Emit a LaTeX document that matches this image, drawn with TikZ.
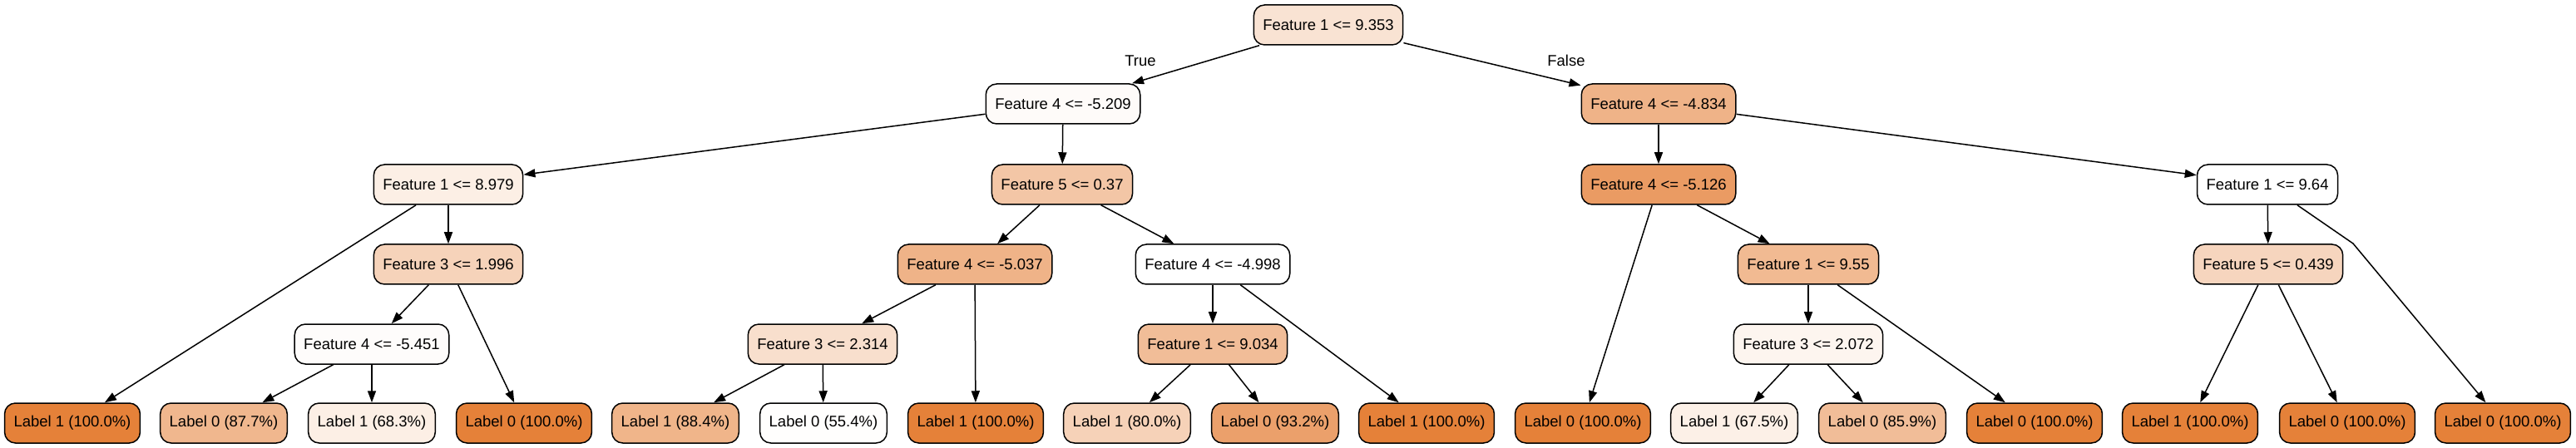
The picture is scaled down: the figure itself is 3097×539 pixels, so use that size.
\documentclass[tikz,border=0pt]{standalone}
\usepackage{fontspec}
\setmainfont{Liberation Sans}
\usetikzlibrary{arrows.meta}
\definecolor{treeor}{HTML}{E58139}
\begin{document}
\begin{tikzpicture}[x=0.5pt,y=-0.5pt,line width=0.75pt,>={Triangle[length=7pt,width=5pt]}]
  \tikzstyle{cond}=[draw,rounded corners=6.5pt,minimum height=24pt,inner xsep=5.5pt,font=\fontsize{9.25}{11}\selectfont]
  \tikzstyle{leaf}=[cond]
  \useasboundingbox (0,0) rectangle (3097,539);

  % split nodes
  \foreach \name/\x/\y/\c/\lbl in {1/1597/30/22/Feature 1 <= 9.353, 2/1278/125/3/Feature 4 <= -5.209,
      3/1994/125/60/Feature 4 <= -4.834, 4/539/222/13/Feature 1 <= 8.979, 5/1277/222/45/Feature 5 <= 0.37,
      6/1994/222/79/Feature 4 <= -5.126, 7/2726/222/0/Feature 1 <= 9.64, 8/539/318/35/Feature 3 <= 1.996,
      9/1172/318/60/Feature 4 <= -5.037, 10/1458/318/0/Feature 4 <= -4.998, 11/2174/318/55/Feature 1 <= 9.55,
      12/2727/318/33/Feature 5 <= 0.439, 13/447/414/2/Feature 4 <= -5.451, 14/989/414/25/Feature 3 <= 2.314,
      15/1458/414/52/Feature 1 <= 9.034, 16/2174/414/8/Feature 3 <= 2.072}
    \node[cond,fill=treeor!\c!white] (F-\name) at (\x,\y) {\lbl};

  % leaves
  \foreach \name/\x/\c/\lbl in {1/87/100/Label 1 (100.0\%), 2/269/57/Label 0 (87.7\%), 3/447/13/Label 1 (68.3\%),
      4/630/100/Label 0 (100.0\%), 5/812/59/Label 1 (88.4\%), 6/990/1/Label 0 (55.4\%),
      7/1173/100/Label 1 (100.0\%), 8/1355/36/Label 1 (80.0\%), 9/1533/75/Label 0 (93.2\%),
      10/1715/100/Label 1 (100.0\%), 11/1903/100/Label 0 (100.0\%), 12/2085/12/Label 1 (67.5\%),
      13/2263/52/Label 0 (85.9\%), 14/2446/100/Label 0 (100.0\%), 15/2633/100/Label 1 (100.0\%),
      16/2822/100/Label 0 (100.0\%), 17/3009/100/Label 0 (100.0\%)}
    \node[leaf,fill=treeor!\c!white] (L-\name) at (\x,509) {\lbl};

  \foreach \from/\to in {F-1/F-2,F-1/F-3,F-2/F-4,F-2/F-5,F-3/F-6,F-3/F-7,F-4/L-1,F-4/F-8,F-8/F-13,F-8/L-4,
      F-13/L-2,F-13/L-3,F-5/F-9,F-5/F-10,F-9/F-14,F-9/L-7,F-14/L-5,F-14/L-6,F-10/F-15,F-10/L-10,
      F-15/L-8,F-15/L-9,F-6/L-11,F-6/F-11,F-11/F-16,F-11/L-14,F-16/L-12,F-16/L-13,F-7/F-12,F-12/L-15,F-12/L-16}
    { \draw[->] (\from) -- (\to); }

  \coordinate (F-7-bend) at (2829,293);
  \draw[->] (F-7) -- (F-7-bend) -- (L-17);

  \node[font=\fontsize{9.25}{11}\selectfont] (lab-true) at (1371,73) {True};
  \node[font=\fontsize{9.25}{11}\selectfont] (lab-false) at (1883,73) {False};

\end{tikzpicture}
\end{document}
